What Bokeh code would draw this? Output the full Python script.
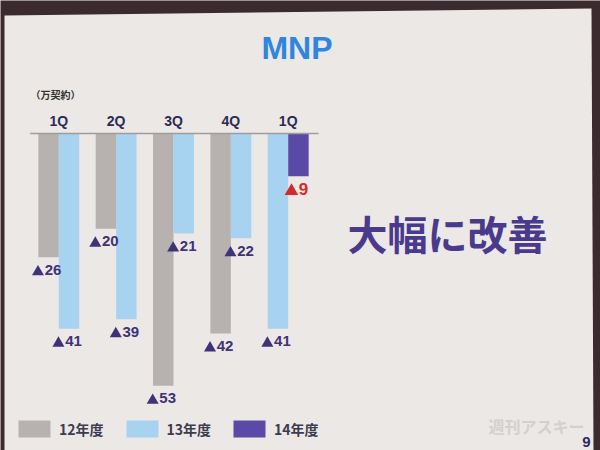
from bokeh.plotting import figure
from bokeh.models import Range1d, Label, Legend, LegendItem, ColumnDataSource, PolyAnnotation
from bokeh.core.properties import value
from bokeh.embed import file_html
from bokeh.resources import INLINE

# ---- data ----
quarters = ["1Q", "2Q", "3Q", "4Q", "1Q"]
fy12 = [26, 20, 53, 42, None]
fy13 = [41, 39, 21, 22, 41]
fy14 = [None, None, None, None, 9]
series_names = ["12年度", "13年度", "14年度"]
series_colors = ["#b7b2af", "#a8d3f0", "#5a4aa6"]
label_colors = ["#3f3278", "#3f3278", "#d42a2a"]
label_font_px = [15, 15, 17]
unit_label = "（万契約）"
title_text = "MNP"
message = "大幅に改善"

# ---- layout constants ----
W, H = 600, 450
BASE_Y = 133          # canvas px of zero line
PX_Y = 4.76           # px per unit
X0 = 58.3             # canvas px of first group centre
STEP = 57.35          # px per group
BAR_W = 0.357
SLIDE = "#ece8e6"
FRAME = "#3b2a2e"
LATIN = "Liberation Sans"
CJK = "Noto Sans CJK JP"

p = figure(width=W, height=H, output_backend="svg", toolbar_location=None,
           x_range=Range1d(-X0 / STEP, (W - X0) / STEP),
           y_range=Range1d(-(H - BASE_Y) / PX_Y, BASE_Y / PX_Y),
           x_axis_type=None, y_axis_type=None, min_border=0)
p.grid.visible = False
p.outline_line_color = None
p.background_fill_color = FRAME
p.border_fill_color = FRAME

# the slide surface (photo of a projected slide)
p.add_layout(PolyAnnotation(xs=[4, 591, 593, 4], ys=[H - 15, H - 8, 0, 0],
                            xs_units="screen", ys_units="screen",
                            fill_color=SLIDE, fill_alpha=1, line_color=None,
                            level="underlay"))

all_series = [fy12, fy13, fy14]
n = len(quarters)

xs = [[] for _ in all_series]
vs = [[] for _ in all_series]
for g in range(n):
    present = [k for k, s in enumerate(all_series) if s[g] is not None]
    for j, k in enumerate(present):
        off = (j - (len(present) - 1) / 2) * BAR_W
        xs[k].append(g + off)
        vs[k].append(all_series[k][g])

renderers = []
for k in range(len(all_series)):
    r = p.vbar(x=xs[k], top=[0] * len(vs[k]), bottom=[-v for v in vs[k]],
               width=BAR_W, fill_color=series_colors[k], line_color=None)
    renderers.append(r)

# value labels "▲nn" below each bar: triangle marker + digits
for k in range(len(all_series)):
    fpx = label_font_px[k]
    tri = fpx * 0.8
    tri_w = tri * 0.866
    tx, dx, ly, ty, txt = [], [], [], [], []
    for x, v in zip(xs[k], vs[k]):
        s = str(v)
        total = tri_w + 1.5 + len(s) * 0.556 * fpx
        left = -total / 2 - 1.5
        tx.append(x + (left + tri_w / 2) / STEP)
        dx.append(x + (left + tri_w + 1.5) / STEP)
        yc = -v - 12.5 / PX_Y
        ly.append(yc)
        ty.append(yc - 0.25 * (tri / 2) / PX_Y - 0.6 / PX_Y)
        txt.append(s)
    p.scatter(x=tx, y=ty, marker="triangle", size=tri,
              fill_color=label_colors[k], line_color=None)
    p.text(x=dx, y=ly, text=txt, text_align="left", text_baseline="middle",
           text_color=label_colors[k], text_font=value(LATIN),
           text_font_style="bold", text_font_size="%dpx" % fpx)

# zero line
p.segment(x0=[-0.5], y0=[0], x1=[n - 1 + 0.53], y1=[0],
          line_color="#a09c9c", line_width=1.5)

# quarter labels
p.text(x=list(range(n)), y=[12.3 / PX_Y] * n, text=quarters,
       text_align="center", text_baseline="middle", text_color="#2c2a55",
       text_font=value(LATIN), text_font_style="bold", text_font_size="14px")

# title and notes
p.add_layout(Label(x=296.5, y=H - 47, x_units="screen", y_units="screen",
                   text=title_text, text_align="center", text_baseline="middle",
                   text_color="#2f86e0", text_font=LATIN, text_font_style="bold",
                   text_font_size="32px"))
p.add_layout(Label(x=30, y=H - 94, x_units="screen", y_units="screen",
                   text=unit_label, text_align="left", text_baseline="middle",
                   text_color="#333333", text_font=CJK, text_font_style="bold",
                   text_font_size="10px"))
p.add_layout(Label(x=447, y=H - 232.5, x_units="screen", y_units="screen",
                   text=message, text_align="center", text_baseline="middle",
                   text_color="#4a3a8c", text_font=CJK, text_font_style="bold",
                   text_font_size="40px"))
p.add_layout(Label(x=536, y=H - 425, x_units="screen", y_units="screen",
                   text="週刊アスキー", text_align="center", text_baseline="middle",
                   text_color="#d4d0d0", text_font=CJK, text_font_style="bold",
                   text_font_size="16px"))
p.add_layout(Label(x=586, y=H - 436, x_units="screen", y_units="screen",
                   text="9", text_align="center", text_baseline="top",
                   text_color="#2a2a60", text_font=LATIN, text_font_style="bold",
                   text_font_size="15px"))

legend = Legend(items=[LegendItem(label=series_names[k], renderers=[renderers[k]])
                       for k in range(len(series_names))],
                location=(14, 11), orientation="horizontal",
                glyph_width=40, glyph_height=21, label_height=21,
                label_standoff=5, spacing=18, padding=0, margin=0,
                border_line_color=None, background_fill_alpha=0,
                label_text_font=CJK, label_text_font_style="bold",
                label_text_font_size="14px", label_text_color="#3c3c50")
p.add_layout(legend)

open("out.html", "w").write(file_html(p, INLINE))
